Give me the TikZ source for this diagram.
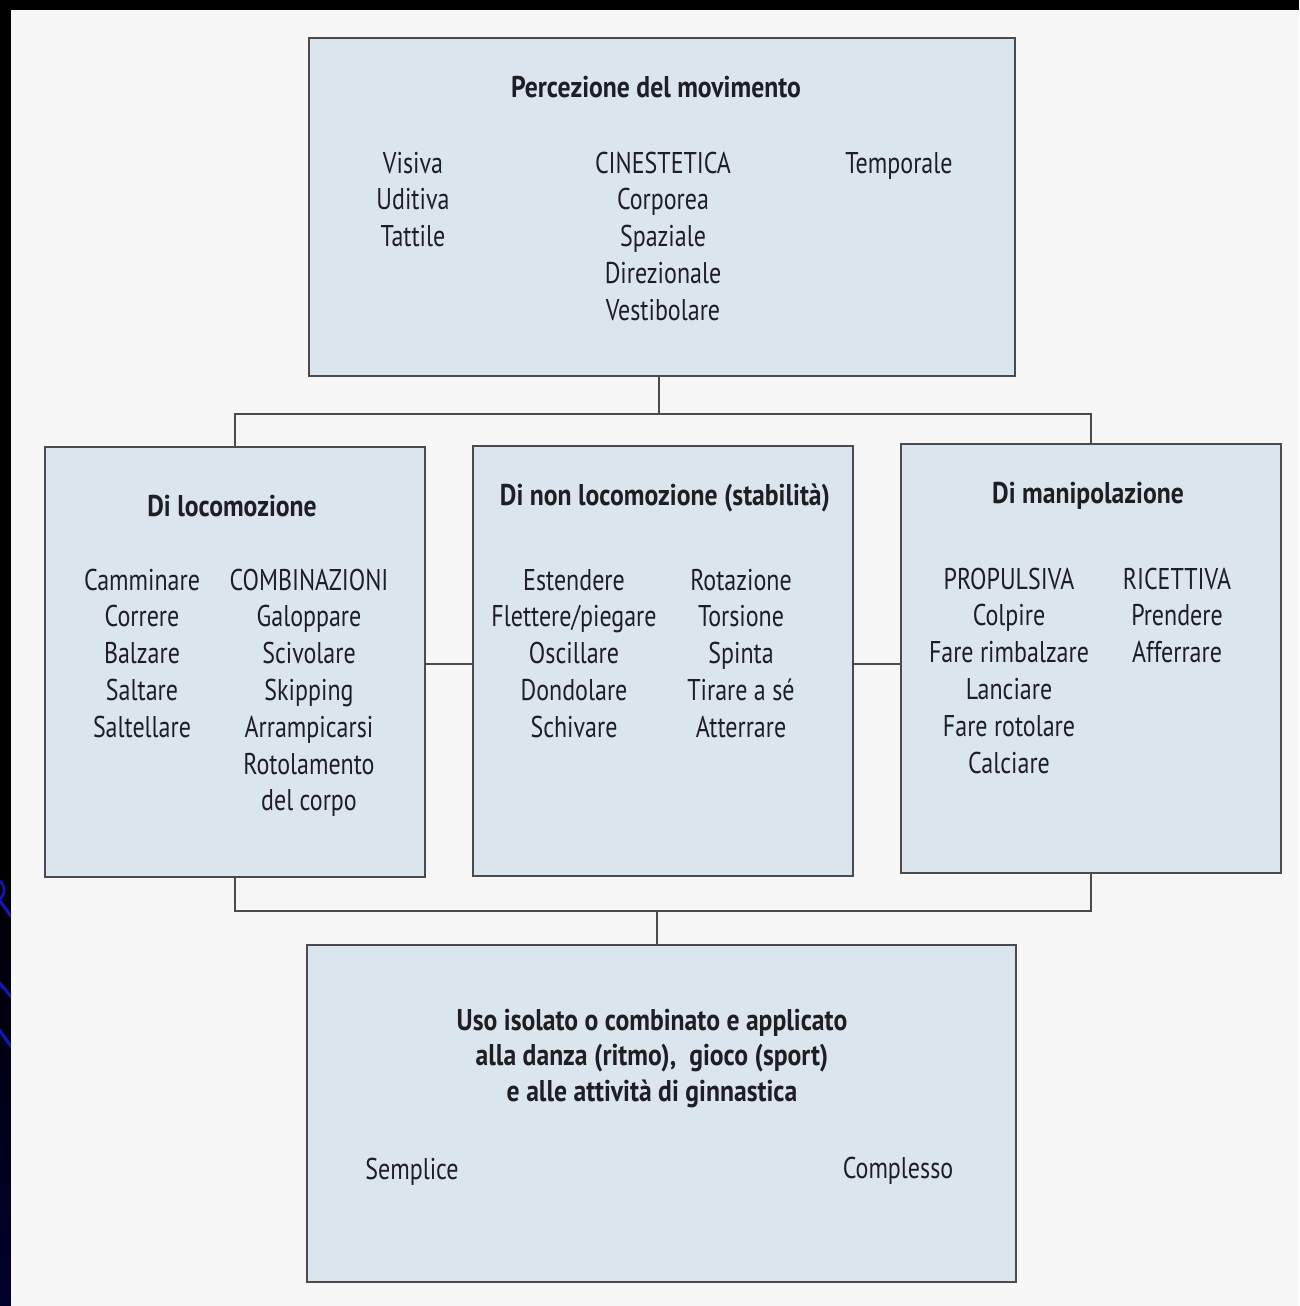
\documentclass[tikz,border=0pt]{standalone}
\usepackage{fontspec}
\setmainfont[FakeStretch=0.8,BoldFeatures={FakeStretch=0.855}]{PT Sans}
\definecolor{boxfill}{RGB}{219,229,237}
\definecolor{boxline}{RGB}{75,75,78}
\definecolor{ink}{RGB}{30,30,35}
\definecolor{paper}{RGB}{247,247,247}
\definecolor{slideblue}{RGB}{20,20,200}
\definecolor{navy}{RGB}{0,0,45}
\begin{document}
\begin{tikzpicture}[x=1pt,y=-1pt,
  box/.style={draw=boxline,fill=boxfill,line width=1.8pt,inner sep=0pt,outer sep=0pt},
  conn/.style={draw=boxline,line width=1.6pt},
  txt/.style={anchor=base,inner sep=0pt,text=ink,font=\fontsize{30}{36}\selectfont},
  hd/.style={anchor=base,inner sep=0pt,text=ink,font=\fontsize{30}{36}\selectfont\bfseries}]
\useasboundingbox (0,0) rectangle (1299,1306);
% background: slide frame and scanned page
\fill[black] (0,0) rectangle (1299,1306);
\shade[top color=black,bottom color=navy] (0,850) rectangle (11,1306);
\begin{scope}
\clip (0,0) rectangle (11,1306);
\draw[slideblue,line width=3pt] (-2,898) -- (13,919);
\draw[slideblue,line width=3pt] (-2,981) -- (13,999);
\draw[slideblue,line width=3pt] (-2,1028) -- (13,1049);
\draw[slideblue,line width=2.5pt] (-2,880) .. controls (6,884) and (6,896) .. (-2,900);
\end{scope}
\fill[paper] (11,10) rectangle (1299,1306);

% boxes
\node[box,minimum width=706pt,minimum height=338pt] (perc) at (662,207) {};
\node[box,minimum width=380pt,minimum height=430pt] (loco) at (235,662) {};
\node[box,minimum width=380pt,minimum height=430pt] (stab) at (663,661) {};
\node[box,minimum width=380pt,minimum height=429pt] (mani) at (1091,658.5) {};
\node[box,minimum width=709pt,minimum height=337pt] (uso) at (661.5,1113.5) {};

% connectors
\coordinate (jt) at (659,414);
\coordinate (jb) at (657,911);
\coordinate (hl) at (0,664);
\draw[conn] (perc.south -| jt) -- (jt);
\draw[conn] (loco.north) |- (jt) -| (mani.north);
\draw[conn] (loco.south) |- (jb) -| (mani.south);
\draw[conn] (jb) -- (uso.north -| jb);
\draw[conn] (loco.east |- hl) -- (stab.west |- hl);
\draw[conn] (stab.east |- hl) -- (mani.west |- hl);

% top box texts
\node[hd] (percT) at (656,97) {Percezione del movimento};
\foreach \s [count=\i from 0] in {Visiva,Uditiva,Tattile}
  \node[txt] (pa\i) at (413,173+36.8*\i) {\s};
\foreach \s [count=\i from 0] in {CINESTETICA,Corporea,Spaziale,Direzionale,Vestibolare}
  \node[txt] (pb\i) at (663,173+36.8*\i) {\s};
\node[txt] (pc0) at (899,173) {Temporale};

% left box
\node[hd] (locoT) at (232,516) {Di locomozione};
\foreach \s [count=\i from 0] in {Camminare,Correre,Balzare,Saltare,Saltellare}
  \node[txt] (la\i) at (142,590+36.8*\i) {\s};
\foreach \s [count=\i from 0] in {COMBINAZIONI,Galoppare,Scivolare,Skipping,Arrampicarsi,Rotolamento,del corpo}
  \node[txt] (lb\i) at (309,590+36.8*\i) {\s};

% middle box
\node[hd] (stabT) at (665,505) {Di non locomozione (stabilità)};
\foreach \s [count=\i from 0] in {Estendere,Flettere/piegare,Oscillare,Dondolare,Schivare}
  \node[txt] (sa\i) at (574,590+36.8*\i) {\s};
\foreach \s [count=\i from 0] in {Rotazione,Torsione,Spinta,Tirare a sé,Atterrare}
  \node[txt] (sb\i) at (741,590+36.8*\i) {\s};

% right box
\node[hd] (maniT) at (1088,503) {Di manipolazione};
\foreach \s [count=\i from 0] in {PROPULSIVA,Colpire,Fare rimbalzare,Lanciare,Fare rotolare,Calciare}
  \node[txt] (ma\i) at (1009,589+36.8*\i) {\s};
\foreach \s [count=\i from 0] in {RICETTIVA,Prendere,Afferrare}
  \node[txt] (mb\i) at (1177,589+36.8*\i) {\s};

% bottom box
\node[hd] (u1) at (652,1030) {Uso isolato o combinato e applicato};
\node[hd] (u2) at (652,1065) {alla danza (ritmo),\ \ gioco (sport)};
\node[hd] (u3) at (652,1101) {e alle attività di ginnastica};
\node[txt] (semp) at (412,1179) {Semplice};
\node[txt] (comp) at (898,1178) {Complesso};
\end{tikzpicture}
\end{document}
